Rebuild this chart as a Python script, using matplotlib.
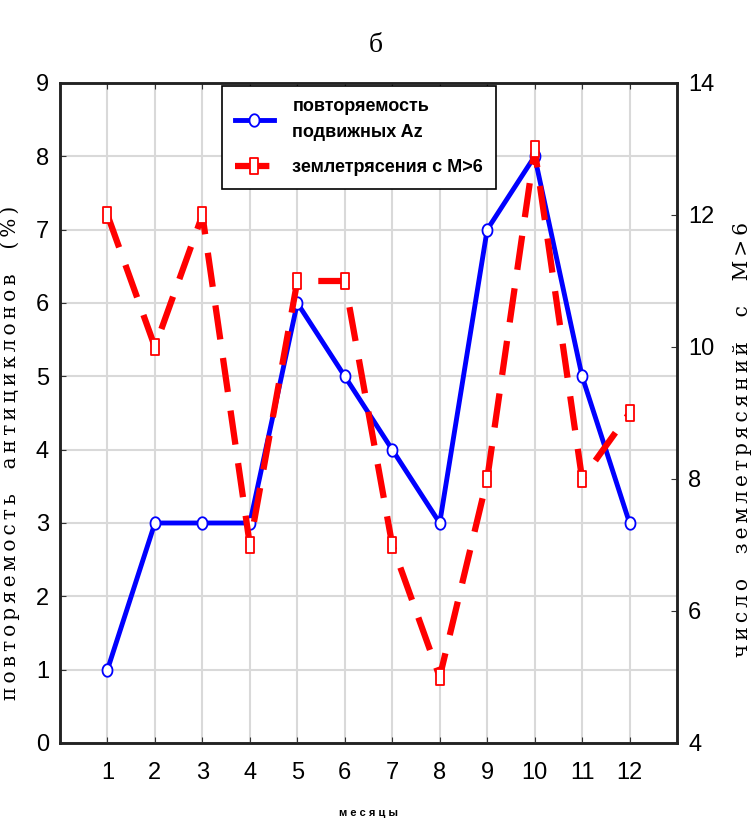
import matplotlib
matplotlib.use("Agg")
import matplotlib.pyplot as plt
from matplotlib.path import Path
import numpy as np

months = [1, 2, 3, 4, 5, 6, 7, 8, 9, 10, 11, 12]
anticyclones = [1, 3, 3, 3, 6, 5, 4, 3, 7, 8, 5, 3]
earthquakes = [12, 10, 12, 7, 11, 11, 7, 5, 8, 13, 8, 9]

label_blue = "повторяемость\nподвижных Az"
label_red = "землетрясения с M>6"
left_ylabel = "повторяемость антициклонов (%)"
right_ylabel = "число землетрясяний с M>6"
xlabel = "месяцы"
title = "б"


def spaced(s, sep="\u2009"):
    return sep.join(s.replace(" ", "  "))


fig = plt.figure(figsize=(7.52, 8.25), dpi=100)
ax = fig.add_axes([0.0798, 0.0994, 0.8205, 0.8000])
ax2 = ax.twinx()

rect = Path([(-0.55, -1), (0.55, -1), (0.55, 1), (-0.55, 1), (-0.55, -1)],
            [Path.MOVETO, Path.LINETO, Path.LINETO, Path.LINETO, Path.CLOSEPOLY])
ell_t = np.linspace(0, 2 * np.pi, 40)
ell = Path(np.column_stack([0.8 * np.cos(ell_t), np.sin(ell_t)]))

l1, = ax.plot(months, anticyclones, color="#0000ff", lw=3.5, marker=ell,
              markersize=9, markerfacecolor="white", markeredgecolor="#0000ff",
              markeredgewidth=1.3, zorder=3)
l2, = ax2.plot(months, earthquakes, color="#ff0000", lw=4.5, dashes=(5.5, 3),
               marker=rect, markersize=11, markerfacecolor="white",
               markeredgecolor="#ff0000", markeredgewidth=1.3, zorder=3)

ax.set_xlim(0, 13)
ax.set_ylim(0, 9)
ax2.set_ylim(4, 14)
ax.set_xticks(months)
ax.set_yticks(range(0, 10))
ax2.set_yticks(range(4, 15, 2))

ax.grid(True, color="#d9d9d9", lw=1.5)
ax.set_axisbelow(True)
ax.tick_params(axis="both", direction="in", length=4, labelsize=17,
               top=True, pad=8, color="#333333")
ax.tick_params(axis="x", pad=14)
ax2.tick_params(axis="y", direction="in", length=4, labelsize=17, pad=8,
                color="#333333")
for lab in ax.get_xticklabels() + ax.get_yticklabels() + ax2.get_yticklabels():
    lab.set_family("Liberation Sans")
for a in (ax, ax2):
    for s in a.spines.values():
        s.set_linewidth(1.8)
        s.set_color("#222222")

ax.set_ylabel(spaced(left_ylabel), family="DejaVu Serif", fontsize=14.5)
ax.yaxis.set_label_coords(-0.065, 0.44)
ax2.set_ylabel(spaced(right_ylabel), family="DejaVu Serif", fontsize=14.5,
               rotation=90)
ax2.yaxis.set_label_coords(1.09, 0.46)
ax.set_xlabel(" ".join(xlabel), fontsize=8, fontweight="bold",
              family="Liberation Sans")
ax.xaxis.set_label_coords(0.5, -0.098)

fig.text(0.5, 0.945, title, ha="center", va="center", fontsize=20,
         family="Liberation Serif")

leg = ax.legend([l1, l2], [label_blue, label_red], loc="upper left",
                bbox_to_anchor=(0.258, 1.0),
                prop={"family": "Liberation Sans", "weight": "bold", "size": 13},
                frameon=True, fancybox=False, edgecolor="black",
                framealpha=1, handlelength=2.2, handletextpad=1.0,
                borderpad=0.7, labelspacing=1.0, borderaxespad=0.15)
leg.get_frame().set_linewidth(1.2)
for t in leg.get_texts():
    t.set_linespacing(1.7)
leg.set_zorder(5)

fig.savefig("out.png", dpi=100)
